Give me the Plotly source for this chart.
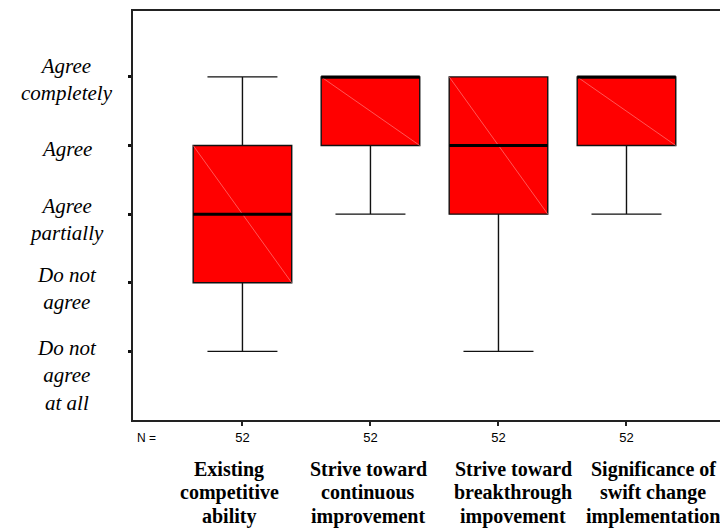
import plotly.graph_objects as go

# ---- data ----
categories = ["Existing<br>competitive<br>ability",
              "Strive toward<br>continuous<br>improvement",
              "Strive toward<br>breakthrough<br>impovement",
              "Significance of<br>swift change<br>implementation"]
q1 = [2, 4, 3, 4]
median = [3, 5, 4, 5]
q3 = [4, 5, 5, 5]
lower = [1, 3, 1, 3]
upper = [5, 5, 5, 5]
n_counts = [52, 52, 52, 52]

y_levels = [1, 2, 3, 4, 5]
y_labels = ["Do not<br>agree<br>at all", "Do not<br>agree", "Agree<br>partially",
            "Agree", "Agree<br>completely"]

# ---- style ----
y_label_shift = [-24, -6, -5, -3, -3]
cat_xshift = [-13, -2, 15, 27]
cat_line_gap = 23.3
cat_first_shift = -36
box_w = 0.77
serif = "Liberation Serif, Times New Roman, serif"
sans = "Liberation Sans, Arial, sans-serif"

xs = list(range(len(categories)))

fig = go.Figure()
fig.add_trace(go.Box(
    x=xs, q1=q1, median=median, q3=q3, lowerfence=lower, upperfence=upper,
    width=box_w, whiskerwidth=0.71, boxpoints=False,
    fillcolor="#ff0000", line=dict(color="#111111", width=1.4),
    showlegend=False, hoverinfo="skip"))

# faint diagonals inside boxes
dx, dy = [], []
for i in xs:
    dx += [i - box_w / 2, i + box_w / 2, None]
    dy += [q3[i], q1[i], None]
fig.add_trace(go.Scatter(x=dx, y=dy, mode="lines",
                         line=dict(color="#ff9090", width=0.6),
                         showlegend=False, hoverinfo="skip"))

# thick median lines
mx, my = [], []
for i in xs:
    mx += [i - box_w / 2, i + box_w / 2, None]
    my += [median[i], median[i], None]
fig.add_trace(go.Scatter(x=mx, y=my, mode="lines",
                         line=dict(color="#000000", width=3),
                         showlegend=False, hoverinfo="skip"))

annotations = []
for lv, lab, sh in zip(y_levels, y_labels, y_label_shift):
    annotations.append(dict(
        x=-0.111, xref="paper", y=lv, yref="y", text="<i>" + lab + "</i>",
        showarrow=False, xanchor="center", yanchor="middle", yshift=sh,
        font=dict(family=serif, size=21, color="black")))
for i, lab in enumerate(categories):
    for k, line in enumerate(lab.split("<br>")):
        annotations.append(dict(
            x=i, xref="x", y=0, yref="paper", text="<b>" + line + "</b>",
            showarrow=False, xanchor="center", yanchor="top",
            yshift=cat_first_shift - k * cat_line_gap,
            xshift=cat_xshift[i],
            font=dict(family=serif, size=20, color="black")))
annotations.append(dict(
    x=0, xref="paper", y=0, yref="paper", text="N =", showarrow=False,
    xanchor="left", yanchor="top", xshift=2, yshift=-9,
    font=dict(family=sans, size=12, color="black")))

# page has an 8px body margin, so the figure is sized to fill the rest
fig.update_layout(
    width=720, height=522,
    margin=dict(l=125, r=0, t=3, b=110),
    paper_bgcolor="white", plot_bgcolor="white",
    annotations=annotations,
    xaxis=dict(range=[-0.855, 3.793], tickvals=xs,
               ticktext=[str(v) for v in n_counts],
               showline=True, linecolor="#222222", linewidth=2, mirror=True,
               ticks="outside", ticklen=4, tickwidth=2, tickcolor="#222222",
               showgrid=False, zeroline=False, automargin=False,
               tickfont=dict(family=sans, size=13, color="black")),
    yaxis=dict(range=[0, 5.96], tickvals=y_levels, ticktext=["" for _ in y_levels],
               showline=True, linecolor="#222222", linewidth=2,
               ticks="outside", ticklen=3, tickwidth=3, tickcolor="#111111",
               showgrid=False, zeroline=False, automargin=False),
)

fig.write_html("out.html")
